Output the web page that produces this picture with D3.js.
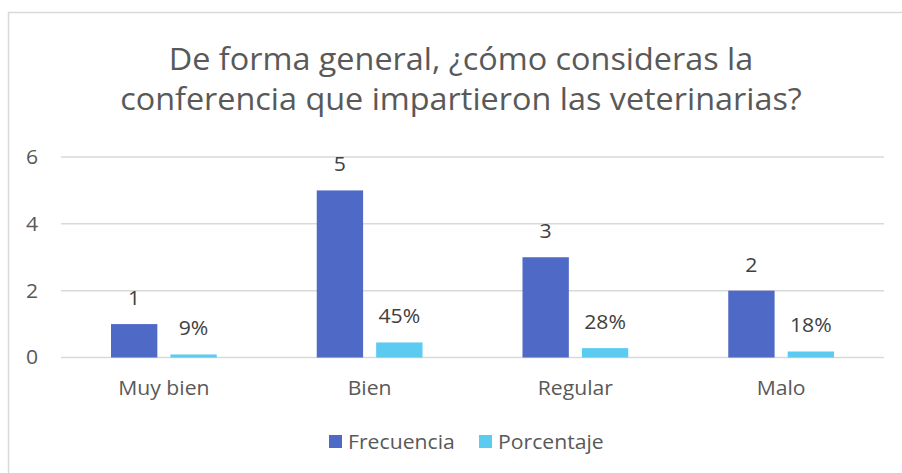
<!DOCTYPE html>
<html><head><meta charset="utf-8">
<script src="https://cdn.jsdelivr.net/npm/d3@7"></script>
<style>body{margin:0;background:#fff}svg{display:block}text{font-family:"Open Sans",sans-serif}</style>
</head><body>
<svg id="c" width="902" height="473"></svg>
<script>
const categories = ["Muy bien","Bien","Regular","Malo"];
const frecuencia = [1,5,3,2];
const porcentaje = [0.09,0.45,0.28,0.18];
const seriesNames = ["Frecuencia","Porcentaje"];
const yTicks = [0,2,4,6];
const titleLines = ["De forma general, ¿cómo consideras la","conferencia que impartieron las veterinarias?"];

const colors = {Frecuencia:"#4f69c6", Porcentaje:"#5bcbf2"};
const FF = "'Open Sans', sans-serif";
const LS = 20, SX = 1.06;
function stretch(sel, s){
  sel.each(function(){
    const t = d3.select(this);
    const x = +t.attr("x") || 0;
    t.attr("transform", `translate(${x},0) scale(${s},1) translate(${-x},0)`);
  });
}
const svg = d3.select("#c");
svg.append("rect").attr("x",8.5).attr("y",12.5).attr("width",1000).attr("height",1000)
  .attr("fill","none").attr("stroke","#d9d9d9").attr("stroke-width",1.5);

const title = svg.selectAll("text.title").data(titleLines).join("text").attr("class","title")
  .attr("x",461).attr("y",(d,i)=>70+i*40).attr("text-anchor","middle")
  .attr("font-size",31).attr("fill","#595959").text(d=>d);
stretch(title, 1.045);

const y = d3.scaleLinear().domain([0,6]).range([357.5,157]);
const x0 = d3.scaleBand().domain(categories).range([61,884]).padding(0);
const x1 = d3.scaleBand().domain(seriesNames).range([50,155.75]).paddingInner(0.22);

svg.append("g").selectAll("line").data(yTicks).join("line")
  .attr("x1",61).attr("x2",884).attr("y1",d=>y(d)).attr("y2",d=>y(d))
  .attr("stroke","#d9d9d9").attr("stroke-width",1.5);

const yAxis = svg.append("g").attr("transform","translate(61,0)")
  .call(d3.axisLeft(y).tickValues(yTicks).tickFormat(d3.format("d")).tickSize(0).tickPadding(23));
yAxis.select(".domain").remove();
yAxis.selectAll("text").attr("font-size",LS).attr("fill","#595959").attr("font-family",FF);
stretch(yAxis.selectAll("text"), SX);

const xAxis = svg.append("g").attr("transform","translate(0,357.5)")
  .call(d3.axisBottom(x0).tickSize(0).tickPadding(23));
xAxis.select(".domain").remove();
xAxis.selectAll("text").attr("font-size",LS).attr("fill","#595959").attr("font-family",FF);
stretch(xAxis.selectAll("text"), SX);

const rows = categories.map((c,i)=>({cat:c, vals:[
  {s:"Frecuencia", v:frecuencia[i], label:String(frecuencia[i])},
  {s:"Porcentaje", v:porcentaje[i], label:Math.round(porcentaje[i]*100)+"%"}]}));

const g = svg.append("g").selectAll("g").data(rows).join("g")
  .attr("transform",d=>`translate(${x0(d.cat)},0)`);
g.selectAll("rect").data(d=>d.vals).join("rect")
  .attr("x",d=>x1(d.s)).attr("width",x1.bandwidth())
  .attr("y",d=>y(d.v)).attr("height",d=>y(0)-y(d.v))
  .attr("fill",d=>colors[d.s]);
const dl = g.selectAll("text").data(d=>d.vals).join("text")
  .attr("x",d=>x1(d.s)+x1.bandwidth()/2).attr("y",d=>y(d.v)-19)
  .attr("text-anchor","middle").attr("font-size",LS).attr("fill","#404040")
  .text(d=>d.label);
stretch(dl, SX);

const legX = [329,479];
const leg = svg.append("g").selectAll("g").data(seriesNames).join("g")
  .attr("transform",(d,i)=>`translate(${legX[i]},435)`);
leg.append("rect").attr("width",13).attr("height",13).attr("fill",d=>colors[d]);
const lt = leg.append("text").attr("x",19).attr("y",13.5).attr("font-size",LS).attr("fill","#595959").text(d=>d);
stretch(lt, SX);
</script>
</body></html>
